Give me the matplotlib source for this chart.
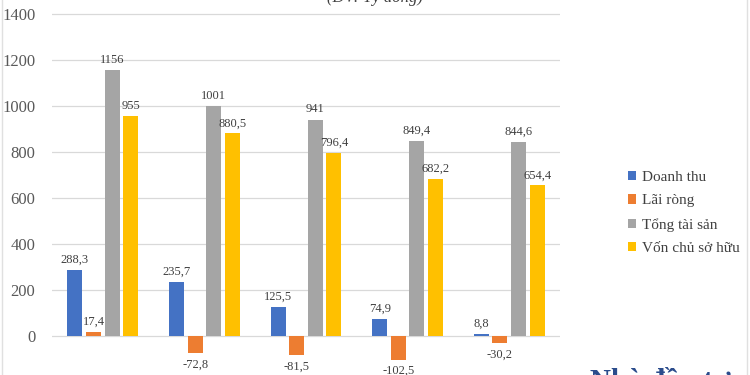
import matplotlib
matplotlib.use("Agg")
import matplotlib.pyplot as plt
import numpy as np

categories = ["1", "2", "3", "4", "5"]
series_names = ["Doanh thu", "Lãi ròng", "Tổng tài sản", "Vốn chủ sở hữu"]
doanh_thu = [288.3, 235.7, 125.5, 74.9, 8.8]
lai_rong = [17.4, -72.8, -81.5, -102.5, -30.2]
tong_tai_san = [1156, 1001, 941, 849.4, 844.6]
von_chu = [955, 880.5, 796.4, 682.2, 654.4]
colors = ["#4472C4", "#ED7D31", "#A5A5A5", "#FFC000"]
yticks = [0, 200, 400, 600, 800, 1000, 1200, 1400]

plt.rcParams['font.family'] = ['Liberation Serif', 'DejaVu Serif']

fig = plt.figure(figsize=(7.5, 3.75), dpi=100)
ax = fig.add_axes([52/750, 0, 508/750, 1])

data = [doanh_thu, lai_rong, tong_tai_san, von_chu]
x = np.arange(len(categories))
step = 0.183
width = 0.148
for i, (vals, name, c) in enumerate(zip(data, series_names, colors)):
    pos = x + (i - 1.5) * step
    ax.bar(pos, vals, width=width, color=c, label=name, zorder=2)
    for p, v in zip(pos, vals):
        lab = ("%g" % v).replace(".", ",")
        if v >= 0:
            ax.annotate(lab, (p, v), xytext=(0, 3), textcoords="offset points",
                        ha="center", va="bottom", fontsize=9, color="#404040")
        else:
            ax.annotate(lab, (p, v), xytext=(0, -4), textcoords="offset points",
                        ha="center", va="top", fontsize=9, color="#404040")

ax.set_xlim(-0.5, 4.5)
ax.set_ylim(-169.6, 1460.9)
ax.set_yticks(yticks)
ax.set_yticklabels([str(t) for t in yticks], fontsize=12, color="#595959")
ax.set_xticks([])
ax.tick_params(axis="y", length=0, pad=12)
ax.grid(axis="y", color="#d9d9d9", linewidth=0.9, zorder=0)
for s in ax.spines.values():
    s.set_visible(False)
ax.patch.set_alpha(0)

handles, labels = ax.get_legend_handles_labels()
leg = fig.legend(handles, labels, loc="center left", bbox_to_anchor=(628/750, 1 - 213/375),
                 frameon=False, fontsize=11, handlelength=0.55, handleheight=0.55,
                 handletextpad=0.35, labelspacing=0.68, labelcolor="#404040",
                 borderpad=0, borderaxespad=0)

fig.text(375/750, 1 + 2/375, "(ĐV: Tỷ đồng)", ha="center", va="center",
         fontsize=12, style="italic", color="#404040")
fig.text(590/750, -14/375, "Nhà đầu tư", ha="left", va="baseline",
         fontsize=21, fontweight="bold", color="#2B4C8C")

fig.add_artist(plt.Line2D([2/750, 2/750], [0, 1], color="#e0e0e0", lw=1))
fig.add_artist(plt.Line2D([747/750, 747/750], [0, 1], color="#e0e0e0", lw=1))

fig.savefig("out.png", dpi=100)
